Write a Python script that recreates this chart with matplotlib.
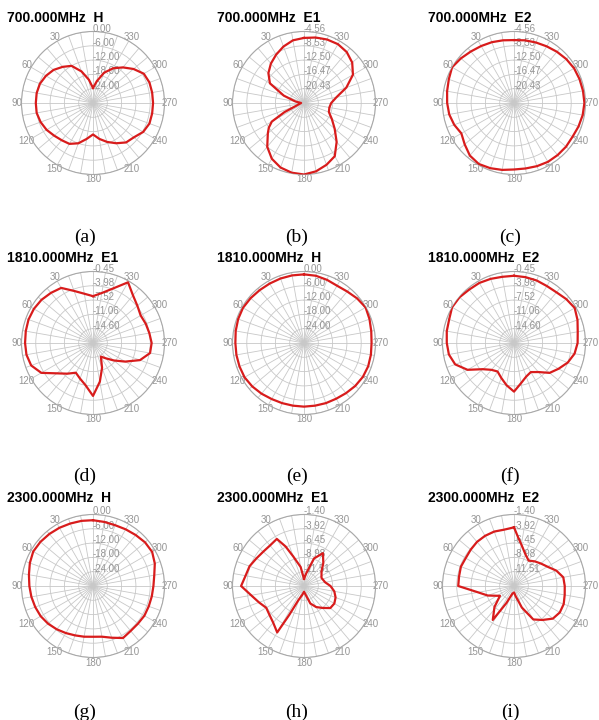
import numpy as np
import matplotlib.pyplot as plt

plt.rcParams['font.family'] = ['Liberation Sans', 'DejaVu Sans']

# ---- data: (angle in degrees, level in dB) for each pattern ----
ang_10 = list(range(0, 360, 10))

a_ang = ang_10
a_db = [-23.7, -20.1, -15.9, -12.0, -10.2, -8.4, -7.2, -6.3, -6.0, -6.0, -6.0, -6.6,
        -7.5, -8.7, -9.6, -10.2, -12.0, -14.7, -16.8, -14.7, -12.6, -10.5, -8.4, -7.6,
        -5.7, -4.8, -4.8, -4.8, -4.8, -4.8, -5.4, -7.8, -10.5, -13.2, -16.5, -20.7]

b_ang = [0, 10, 20, 30, 40, 50, 60, 70, 80, 90, 100, 110, 115, 120, 125, 130, 140, 150,
         160, 170, 180, 190, 200, 210, 220, 230, 240, 250, 260, 270, 280, 290, 300, 310,
         320, 330, 340, 350]
b_db = [-6.34, -6.74, -7.73, -8.92, -10.11, -11.5, -13.48, -18.44, -22.0, -23.6, -23.2,
        -22.0, -18.44, -14.08, -12.49, -11.3, -8.53, -6.54, -5.35, -4.76, -4.56, -5.15,
        -6.15, -7.34, -10.31, -13.29, -15.47, -17.05, -17.25, -16.85, -15.27, -11.9,
        -8.72, -6.94, -5.95, -5.55, -5.65, -5.95]

c_ang = ang_10
c_db = [-6.94, -6.74, -6.44, -6.15, -5.75, -5.15, -4.56, -5.15, -5.55, -5.85, -6.15, -6.74,
        -7.53, -6.54, -5.35, -4.86, -5.15, -5.55, -5.95, -5.95, -5.75, -5.55, -5.55, -5.55,
        -5.65, -5.35, -5.05, -4.86, -4.96, -5.05, -5.15, -5.45, -5.85, -6.25, -6.54, -6.74]

d_ang = ang_10
d_db = [-6.55, -5.76, -4.43, -2.40, -1.95, -1.51, -1.25, -1.16, -1.25, -1.33, -1.42, -1.87,
        -3.37, -6.46, -8.23, -9.65, -8.76, -7.53, -5.05, -8.41, -11.59, -14.25, -13.19,
        -11.42, -8.94, -5.76, -3.81, -3.63, -3.99, -4.25, -4.52, -3.81, -2.75, -0.80,
        -3.81, -5.58]

e_ang = ang_10
e_db = [-1.2, -1.2, -1.2, -1.2, -1.05, -0.75, -0.45, -0.6, -0.9, -1.2, -1.2, -1.2, -1.2,
        -1.65, -2.25, -2.85, -3.15, -3.3, -3.3, -3.3, -3.15, -3.0, -2.55, -1.95, -1.5,
        -1.35, -1.5, -1.65, -1.35, -0.75, -0.15, -0.9, -1.8, -2.25, -1.8, -1.35]

f_ang = ang_10
f_db = [-1.51, -1.51, -1.25, -0.98, -0.89, -0.54, -0.45, -1.07, -1.25, -1.51, -1.78, -2.66,
        -4.87, -8.06, -9.47, -10.0, -8.94, -7.53, -6.11, -8.06, -9.30, -9.83, -8.76, -6.64,
        -5.40, -3.99, -2.93, -2.40, -2.13, -1.42, -0.80, -1.25, -1.78, -1.87, -1.69, -1.60]

g_ang = ang_10
g_db = [-2.4, -2.25, -2.1, -1.8, -1.5, -1.2, -1.05, -1.8, -2.7, -3.3, -3.75, -4.2, -4.65,
        -5.4, -6.3, -7.2, -7.95, -8.4, -8.7, -8.4, -6.9, -4.8, -5.4, -5.4, -5.1, -5.1,
        -4.95, -4.65, -3.9, -2.4, -1.35, -1.5, -2.1, -2.55, -2.85, -2.7]

h_ang = [0, 10, 20, 25, 30, 40, 50, 60, 70, 80, 90, 100, 110, 120, 130, 140, 150, 153,
         158, 170, 180, 190, 200, 210, 220, 230, 240, 250, 260, 270, 280, 295, 310, 320,
         330, 340, 350]
h_db = [-12.78, -10.63, -8.48, -6.33, -4.43, -4.69, -4.62, -4.31, -3.80, -3.55, -2.92,
        -4.56, -5.57, -6.33, -6.08, -5.57, -4.56, -8.35, -11.26, -12.52, -13.03, -12.52,
        -10.75, -9.74, -8.98, -7.97, -7.85, -8.10, -8.60, -9.36, -10.25, -10.63, -9.99,
        -8.73, -7.34, -8.86, -11.77]

i_ang = [0, 10, 20, 30, 40, 50, 60, 70, 80, 90, 100, 110, 125, 137, 148, 156, 168, 180,
         190, 200, 210, 220, 230, 240, 250, 260, 270, 280, 290, 300, 310, 320, 330, 340,
         350, 355]
i_db = [-3.67, -3.93, -3.80, -3.80, -3.86, -4.05, -4.18, -4.05, -4.18, -4.18, -7.59,
        -9.11, -11.01, -8.98, -6.96, -10.75, -12.65, -12.90, -12.14, -9.99, -7.21, -6.20,
        -5.07, -4.69, -4.69, -4.94, -5.07, -5.19, -6.08, -7.21, -7.85, -8.35, -8.86,
        -8.10, -6.58, -5.45]

# radial rings (outer first) and the level at the centre
rings_h = [0.00, -6.00, -12.00, -18.00, -24.00]
rings_700 = [-4.56, -8.53, -12.50, -16.47, -20.43]
rings_1810 = [-0.45, -3.98, -7.52, -11.06, -14.60]
rings_2300 = [-1.40, -3.92, -6.45, -8.98, -11.51]
centre_h = -30.0
centre_700 = -24.40
centre_1810 = -18.14
centre_2300 = -14.04

titles = ["700.000MHz  H", "700.000MHz  E1", "700.000MHz  E2",
          "1810.000MHz  E1", "1810.000MHz  H", "1810.000MHz  E2",
          "2300.000MHz  H", "2300.000MHz  E1", "2300.000MHz  E2"]
captions = ["(a)", "(b)", "(c)", "(d)", "(e)", "(f)", "(g)", "(h)", "(i)"]

angles = [a_ang, b_ang, c_ang, d_ang, e_ang, f_ang, g_ang, h_ang, i_ang]
levels = [a_db, b_db, c_db, d_db, e_db, f_db, g_db, h_db, i_db]
rings = [rings_h, rings_700, rings_700, rings_1810, rings_h, rings_1810,
         rings_h, rings_2300, rings_2300]
centres = [centre_h, centre_700, centre_700, centre_1810, centre_h, centre_1810,
           centre_h, centre_2300, centre_2300]

# ---- layout (pixels) ----
W, H = 599, 720
R = 71.5
col_x = [93, 304, 514]
row_y = [103, 343, 586]
title_base = [22, 262, 502]
title_x = [7, 217, 428]
cap_x = [85, 297, 510]
cap_y = [237, 476, 712]

grey_txt = '#959595'
grid_col = '#c8c8c8'
line_col = '#d81c1c'

fig = plt.figure(figsize=(W / 100, H / 100), dpi=100)

for k in range(9):
    row, col = divmod(k, 3)
    cx, cy = col_x[col], row_y[row]
    ax = fig.add_axes([(cx - R) / W, 1 - (cy + R) / H, 2 * R / W, 2 * R / H],
                      projection='polar')
    ax.set_theta_zero_location('N')
    ax.set_theta_direction(1)
    ax.set_ylim(centres[k], rings[k][0])
    ax.set_yticks(rings[k])
    ax.set_yticklabels([])

    ticks = list(range(0, 360, 10))
    ax.set_xticks(np.radians(ticks))
    ax.set_xticklabels([str(t) if t % 30 == 0 and t != 0 else '' for t in ticks],
                       fontsize=7, color=grey_txt)
    ax.tick_params(axis='x', pad=-3.4, length=0)
    ax.grid(True, color=grid_col, lw=0.6)
    ax.spines['polar'].set_color('#a8a8a8')
    ax.spines['polar'].set_linewidth(0.8)

    # radial level labels along the 0 degree spoke
    for r in rings[k]:
        ax.text(0, r, '%.2f' % r, ha='left', va='baseline', fontsize=7,
                color=grey_txt)

    th = np.radians(angles[k] + [angles[k][0]])
    rr = levels[k] + [levels[k][0]]
    ax.plot(th, rr, color=line_col, lw=1.6, zorder=5)

    fig.text(title_x[col] / W, 1 - title_base[row] / H, titles[k],
             fontsize=10, fontweight='bold', va='baseline', ha='left')
    fig.text(cap_x[col] / W, 1 - cap_y[row] / H, captions[k],
             fontsize=14, family='Liberation Serif', ha='center', va='center')

fig.savefig('out.png', dpi=100)
